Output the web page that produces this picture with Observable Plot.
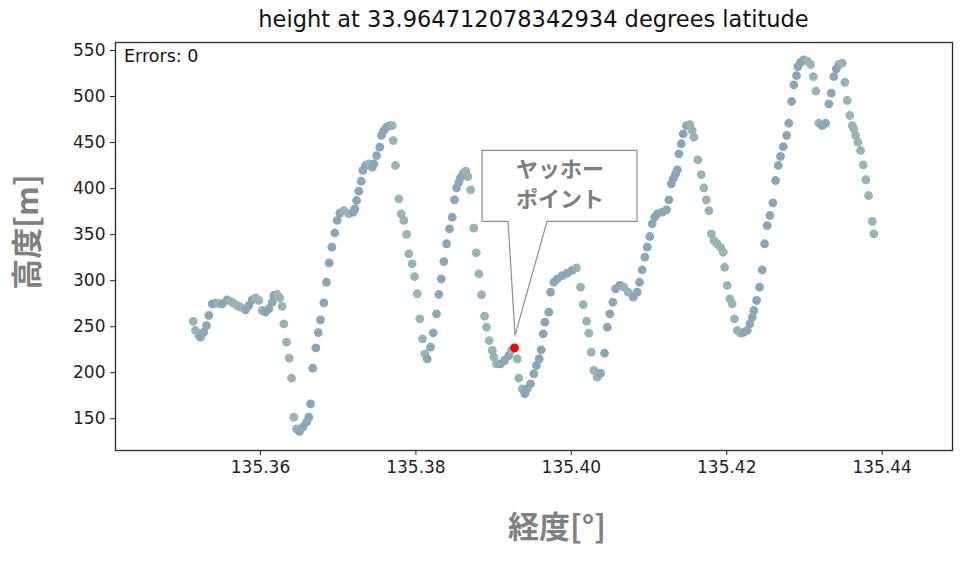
<!DOCTYPE html>
<html>
<head>
<meta charset="utf-8">
<script src="https://cdn.jsdelivr.net/npm/d3@7"></script>
<script src="https://cdn.jsdelivr.net/npm/@observablehq/plot@0.6"></script>
<style>
  body { margin: 0; background: #ffffff; }
  #chart { position: relative; width: 963px; height: 571px; }
</style>
</head>
<body>
<div id="chart"></div>
<script>
const titleText = "height at 33.964712078342934 degrees latitude";
const errorsText = "Errors: 0";
const xLabel = "経度[°]";
const yLabel = "高度[m]";
const calloutLines = ["ヤッホー", "ポイント"];

const xTicks = [135.36, 135.38, 135.40, 135.42, 135.44];
const yTicks = [150, 200, 250, 300, 350, 400, 450, 500, 550];

const lon = [
  135.35134,135.35163,135.35206,135.35228,135.35270,135.35305,135.35335,135.35378,135.35421,135.35459,
  135.35507,135.35571,135.35614,135.35656,135.35700,135.35743,135.35807,135.35849,135.35893,135.35936,
  135.35978,135.36022,135.36064,135.36107,135.36151,135.36171,135.36215,135.36248,135.36279,135.36300,
  135.36335,135.36369,135.36399,135.36429,135.36463,135.36502,135.36544,135.36592,135.36622,135.36644,
  135.36673,135.36712,135.36743,135.36772,135.36815,135.36849,135.36884,135.36918,135.36956,135.36987,
  135.37021,135.37072,135.37136,135.37193,135.37214,135.37236,135.37265,135.37296,135.37317,135.37351,
  135.37394,135.37438,135.37458,135.37493,135.37535,135.37557,135.37587,135.37622,135.37664,135.37695,
  135.37708,135.37737,135.37780,135.37811,135.37844,135.37879,135.37909,135.37952,135.37982,135.38017,
  135.38050,135.38085,135.38115,135.38145,135.38188,135.38223,135.38265,135.38295,135.38326,135.38359,
  135.38394,135.38432,135.38467,135.38497,135.38523,135.38552,135.38574,135.38609,135.38642,135.38668,
  135.38703,135.38745,135.38776,135.38810,135.38844,135.38883,135.38909,135.38943,135.38982,135.39003,
  135.39037,135.39089,135.39140,135.39196,135.39230,
  135.39304,135.39324,135.39368,135.39402,135.39432,135.39475,135.39517,135.39552,135.39587,135.39613,
  135.39638,135.39659,135.39710,135.39732,135.39775,135.39819,135.39883,135.39947,135.40012,135.40067,
  135.40118,135.40153,135.40196,135.40225,135.40256,135.40290,135.40333,135.40376,135.40427,135.40462,
  135.40496,135.40534,135.40569,135.40624,135.40676,135.40732,135.40797,135.40848,135.40878,135.40912,
  135.40946,135.40977,135.41010,135.41041,135.41071,135.41106,135.41170,135.41225,135.41255,135.41286,
  135.41311,135.41341,135.41363,135.41384,135.41414,135.41440,135.41483,135.41525,135.41556,135.41577,
  135.41628,135.41672,135.41705,135.41736,135.41770,135.41801,135.41834,135.41878,135.41920,135.41955,
  135.41972,135.42006,135.42040,135.42071,135.42100,135.42135,135.42178,135.42220,135.42264,135.42297,
  135.42328,135.42349,135.42384,135.42422,135.42457,135.42487,135.42521,135.42555,135.42593,135.42628,
  135.42663,135.42692,135.42727,135.42770,135.42799,135.42834,135.42864,135.42898,135.42915,135.42950,
  135.42992,135.43036,135.43079,135.43113,135.43147,135.43185,135.43229,135.43272,135.43314,135.43345,
  135.43378,135.43409,135.43443,135.43487,135.43520,135.43551,135.43584,135.43615,135.43636,135.43658,
  135.43687,135.43722,135.43757,135.43790,135.43825,135.43873,135.43893
];

const height = [
  255.7,245.9,240.5,238.6,244.0,251.3,262.2,274.9,275.5,275.5,
  274.9,279.2,277.4,275.5,273.0,271.2,268.4,273.0,279.2,281.4,
  278.5,267.6,265.8,269.5,276.6,283.9,285.0,281.4,272.0,253.2,
  233.2,215.8,194.1,151.7,139.1,136.2,140.9,146.3,151.7,166.3,
  205.0,227.1,243.7,257.5,276.0,298.3,319.4,336.4,352.0,365.4,
  373.3,376.2,372.6,374.4,378.1,387.1,397.2,408.0,419.7,425.1,
  426.9,423.2,426.9,435.9,445.0,457.7,463.1,466.7,468.5,468.5,
  452.2,425.1,388.9,372.6,365.4,350.2,329.2,318.3,304.5,285.8,
  258.6,236.9,220.6,215.2,227.8,243.4,264.0,285.0,302.0,320.8,
  340.1,356.3,368.9,387.8,400.9,406.9,411.7,416.7,418.9,413.1,
  398.7,357.0,330.3,307.5,284.7,261.4,249.5,235.0,224.2,216.9,
  209.7,209.7,213.3,218.7,224.2,
  215.2,194.1,182.6,177.2,182.6,188.0,198.9,207.9,215.2,224.9,
  242.3,254.9,265.8,287.5,298.3,302.0,305.6,308.1,311.1,314.0,
  292.9,274.1,256.0,243.0,222.3,202.5,195.2,199.5,221.2,249.5,
  264.0,276.6,291.2,294.8,292.9,287.5,282.1,287.5,298.3,311.8,
  325.5,336.4,348.0,361.8,368.9,372.6,374.4,377.0,387.8,405.2,
  410.6,416.1,420.4,437.8,448.7,459.5,468.5,469.6,463.1,455.8,
  431.3,415.3,400.9,387.8,376.2,350.9,343.6,340.1,336.4,330.9,
  314.6,294.8,280.3,274.9,258.6,245.9,243.0,244.0,245.9,253.2,
  260.3,267.6,278.5,292.9,311.8,340.1,359.9,370.8,384.6,408.8,
  425.1,434.9,445.7,457.7,471.0,494.6,512.7,522.8,532.6,537.3,
  539.9,538.4,534.8,521.7,505.8,471.0,468.5,471.0,492.1,503.6,
  521.7,530.1,534.8,536.2,515.5,495.7,479.4,468.5,464.9,457.7,
  450.4,441.4,425.8,409.6,392.5,364.3,350.9
];

const pointLon = [135.39269];
const pointHeight = [227.1];

const risingColor = "#8ba6b7";
const fallingColor = "#97b5b4";

const data = lon.map((x, i) => {
  const prev = height[Math.max(0, i - 1)];
  const next = height[Math.min(height.length - 1, i + 1)];
  return { lon: x, height: height[i], fill: next - prev >= 0 ? risingColor : fallingColor };
});
const point = pointLon.map((x, i) => ({ lon: x, height: pointHeight[i] }));

const plot = Plot.plot({
  width: 963,
  height: 571,
  marginLeft: 115,
  marginRight: 11,
  marginTop: 42,
  marginBottom: 121,
  style: { fontFamily: "DejaVu Sans", fontSize: "17px", color: "#222", background: "#ffffff", overflow: "visible" },
  x: { domain: [135.34134, 135.44905], ticks: xTicks, tickFormat: ".2f", label: null, tickSize: 5, tickPadding: 5 },
  y: { domain: [115.57, 558.69], ticks: yTicks, label: null, tickSize: 5, tickPadding: 5 },
  color: { type: "identity" },
  marks: [
    Plot.dot(data, { x: "lon", y: "height", r: 4.4, fill: "fill", stroke: null }),
    Plot.dot(point, { x: "lon", y: "height", r: 4.4, fill: "#ff0000", stroke: null }),
    Plot.frame({ stroke: "#2a2a2a", strokeWidth: 1.3 })
  ]
});
document.getElementById("chart").append(plot);

const svg = d3.select(plot);
const xs = plot.scale("x");
const ys = plot.scale("y");
const plotLeft = Math.min(...xs.range), plotRight = Math.max(...xs.range);
const plotTop = Math.min(...ys.range);

svg.append("text")
  .attr("x", (plotLeft + plotRight) / 2).attr("y", 20)
  .attr("text-anchor", "middle").attr("dominant-baseline", "middle")
  .attr("font-family", "DejaVu Sans").attr("font-size", 22.5).attr("fill", "#111")
  .text(titleText);

svg.append("text")
  .attr("x", plotLeft + 9).attr("y", plotTop + 15)
  .attr("text-anchor", "start").attr("dominant-baseline", "middle")
  .attr("font-family", "DejaVu Sans").attr("font-size", 17.5).attr("fill", "#111")
  .text(errorsText);

svg.append("text")
  .attr("x", 557).attr("y", 530)
  .attr("text-anchor", "middle").attr("dominant-baseline", "middle")
  .attr("font-family", "Noto Sans CJK JP").attr("font-weight", "bold")
  .attr("font-size", 31).attr("fill", "#808080")
  .text(xLabel);

svg.append("text")
  .attr("transform", "translate(30,232) rotate(-90)")
  .attr("text-anchor", "middle").attr("dominant-baseline", "middle")
  .attr("font-family", "Noto Sans CJK JP").attr("font-weight", "bold")
  .attr("font-size", 31).attr("fill", "#808080")
  .text(yLabel);

// Callout anchored to the highlighted point
const cpx = xs.apply(pointLon[0]);
const cpy = ys.apply(pointHeight[0]);
const boxL = cpx - 32, boxR = cpx + 123, boxT = cpy - 197, boxB = cpy - 126;
const base1 = cpx - 6, base2 = cpx + 33, tipX = cpx + 1, tipY = cpy - 12;
svg.append("path")
  .attr("d", `M${boxL},${boxT}H${boxR}V${boxB}H${base2}L${tipX},${tipY}L${base1},${boxB}H${boxL}Z`)
  .attr("fill", "#ffffff").attr("stroke", "#8c8c8c").attr("stroke-width", 1.2);
calloutLines.forEach((t, i) => {
  svg.append("text")
    .attr("x", cpx + 46).attr("y", boxT + 21 + i * 30)
    .attr("text-anchor", "middle").attr("dominant-baseline", "middle")
    .attr("font-family", "Noto Sans CJK JP").attr("font-weight", "bold")
    .attr("font-size", 22).attr("fill", "#7f7f7f")
    .text(t);
});
</script>
</body>
</html>
